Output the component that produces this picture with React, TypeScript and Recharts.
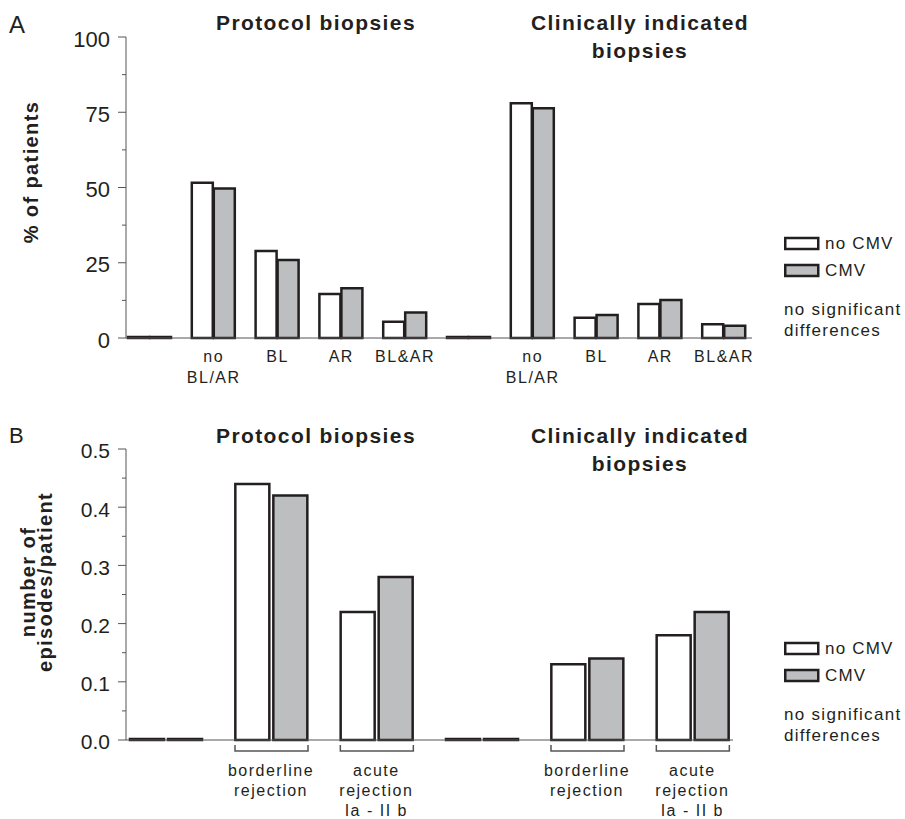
import { BarChart, Bar, XAxis, YAxis, Legend } from 'recharts'

// panel A: % of patients
const categoriesA = ['', 'no\nBL/AR', 'BL', 'AR', 'BL&AR', '', 'no\nBL/AR', 'BL', 'AR', 'BL&AR']
const noCmvA = [0, 51.6, 28.9, 14.6, 5.4, 0, 78.0, 6.7, 11.3, 4.6]
const cmvA = [0, 49.7, 25.9, 16.5, 8.5, 0, 76.3, 7.6, 12.6, 4.1]
const yTicksA = [0, 12.5, 25, 37.5, 50, 62.5, 75, 87.5, 100]

// panel B: number of episodes/patient
const categoriesB = ['', 'borderline\nrejection', 'acute\nrejection\nIa - II b', '', 'borderline\nrejection', 'acute\nrejection\nIa - II b']
const noCmvB = [0, 0.44, 0.22, 0, 0.13, 0.18]
const cmvB = [0, 0.42, 0.28, 0, 0.14, 0.22]
const yTicksB = [0, 0.05, 0.1, 0.15, 0.2, 0.25, 0.3, 0.35, 0.4, 0.45, 0.5]

const seriesOrder = ['no CMV', 'CMV']

const INK = '#231f20'
const GREY = '#bcbec0'
const AXIS = '#555'
const FONT = '"Liberation Sans", Arial, sans-serif'

const dataA = categoriesA.map((cat, i) => ({ cat, noCmv: noCmvA[i], cmv: cmvA[i] }))
const dataB = categoriesB.map((cat, i) => ({ cat, noCmv: noCmvB[i], cmv: cmvB[i] }))

function TickA(props: any) {
  const { x, y, payload } = props
  const lines = String(payload.value).split('\n').filter(Boolean)
  return (
    <g>
      {lines.map((l, i) => (
        <text key={i} x={x} y={y + 24 + i * 21} textAnchor="middle" fontSize={16} letterSpacing={1.5} fill={INK} fontFamily={FONT}>
          {l}
        </text>
      ))}
    </g>
  )
}

function TickB(props: any) {
  const { x, y, payload } = props
  const lines = String(payload.value).split('\n').filter(Boolean)
  if (!lines.length) return <g />
  return (
    <g>
      <path d={`M${x - 36},${y + 5}V${y + 11}H${x + 37}V${y + 5}`} stroke={AXIS} strokeWidth={1.5} fill="none" />
      {lines.map((l, i) => (
        <text key={i} x={x} y={y + 36 + i * 20} textAnchor="middle" fontSize={16} letterSpacing={1.5} fill={INK} fontFamily={FONT}>
          {l}
        </text>
      ))}
    </g>
  )
}

const makeYTick = (isMajor: (v: number) => boolean, fmt: (v: number) => string, fontSize: number) =>
  function YTick(props: any) {
    const { x, y, payload } = props
    const major = isMajor(payload.value)
    return (
      <g>
        <line x1={x - (major ? 8 : 4)} x2={x} y1={y} y2={y} stroke={AXIS} strokeWidth={1} />
        {major && (
          <text x={x - 16} y={y + 2} dy="0.35em" textAnchor="end" fontSize={fontSize} fill={INK} fontFamily={FONT}>
            {fmt(payload.value)}
          </text>
        )}
      </g>
    )
  }

const YTickA = makeYTick((v) => v % 25 === 0, (v) => String(v), 22)
const YTickB = makeYTick((v) => Math.round(v * 100) % 10 === 0, (v) => v.toFixed(1), 21)

function renderLegend(props: any) {
  const items = [...(props.payload || [])].sort((a: any, b: any) => seriesOrder.indexOf(a.value) - seriesOrder.indexOf(b.value))
  return (
    <svg width={121} height={110} style={{ display: 'block', fontFamily: FONT }}>
      {items.map((entry: any, i: number) => (
        <g key={i}>
          <rect x={1.25} y={4 + i * 27} width={33} height={11} fill={entry.color} stroke={INK} strokeWidth={2.5} />
          <text x={41} y={15 + i * 27} fontSize={17} letterSpacing={1.2} fill={INK}>
            {entry.value}
          </text>
        </g>
      ))}
      <text x={0} y={81} fontSize={17} letterSpacing={1.3} fill={INK}>no significant</text>
      <text x={0} y={102} fontSize={17} letterSpacing={1.3} fill={INK}>differences</text>
    </svg>
  )
}

const titleStyle = { fontSize: 21, fontWeight: 700, letterSpacing: 1.4, fill: INK }
const axisTitleStyle = { fontSize: 20, fontWeight: 700, letterSpacing: 1.4, fill: INK }

export default function App() {
  return (
    <div style={{ position: 'absolute', left: 0, top: 0, width: 905, height: 819, background: '#fff', fontFamily: FONT }}>
      <div style={{ position: 'absolute', left: 0, top: 0 }}>
        <BarChart width={905} height={400} data={dataA} margin={{ top: 37, right: 153, bottom: 12, left: 66 }} barGap={1}>
          <XAxis
            dataKey="cat"
            padding={{ left: -8, right: -4 }}
            axisLine={{ stroke: AXIS, strokeWidth: 1 }}
            tickLine={false}
            tickSize={0}
            tickMargin={0}
            height={50}
            interval={0}
            tick={<TickA />}
          />
          <YAxis
            domain={[0, 100]}
            ticks={yTicksA}
            interval={0}
            width={60}
            axisLine={{ stroke: AXIS, strokeWidth: 1 }}
            tickLine={false}
            tickSize={0}
            tickMargin={0}
            tick={<YTickA />}
          />
          <Legend layout="horizontal" verticalAlign="middle" align="center" wrapperStyle={{ left: 784, top: 234, width: 121, height: 110 }} content={renderLegend} />
          <Bar dataKey="noCmv" name="no CMV" fill="#ffffff" stroke={INK} strokeWidth={2.5} barSize={21} minPointSize={1} isAnimationActive={false} />
          <Bar dataKey="cmv" name="CMV" fill={GREY} stroke={INK} strokeWidth={2.5} barSize={21} minPointSize={1} isAnimationActive={false} />
        </BarChart>
      </div>
      <div style={{ position: 'absolute', left: 0, top: 400 }}>
        <BarChart width={905} height={419} data={dataB} margin={{ top: 49, right: 172, bottom: 9, left: 66 }} barGap={4}>
          <XAxis
            dataKey="cat"
            padding={{ left: -13, right: -12 }}
            axisLine={{ stroke: AXIS, strokeWidth: 1 }}
            tickLine={false}
            tickSize={0}
            tickMargin={0}
            height={70}
            interval={0}
            tick={<TickB />}
          />
          <YAxis
            domain={[0, 0.5]}
            ticks={yTicksB}
            interval={0}
            width={60}
            axisLine={{ stroke: AXIS, strokeWidth: 1 }}
            tickLine={false}
            tickSize={0}
            tickMargin={0}
            tick={<YTickB />}
          />
          <Legend layout="horizontal" verticalAlign="middle" align="center" wrapperStyle={{ left: 784, top: 239, width: 121, height: 110 }} content={renderLegend} />
          <Bar dataKey="noCmv" name="no CMV" fill="#ffffff" stroke={INK} strokeWidth={2.5} barSize={34} minPointSize={1} isAnimationActive={false} />
          <Bar dataKey="cmv" name="CMV" fill={GREY} stroke={INK} strokeWidth={2.5} barSize={34} minPointSize={1} isAnimationActive={false} />
        </BarChart>
      </div>
      <svg width={905} height={819} style={{ position: 'absolute', left: 0, top: 0, pointerEvents: 'none', fontFamily: FONT }}>
        <text x={9} y={33} fontSize={24} fill={INK}>A</text>
        <text x={9} y={443} fontSize={22} fill={INK}>B</text>

        <text x={316} y={30} textAnchor="middle" {...titleStyle}>Protocol biopsies</text>
        <text x={640} y={30} textAnchor="middle" {...titleStyle}>Clinically indicated</text>
        <text x={640} y={58} textAnchor="middle" {...titleStyle}>biopsies</text>

        <text x={316} y={443} textAnchor="middle" {...titleStyle}>Protocol biopsies</text>
        <text x={640} y={443} textAnchor="middle" {...titleStyle}>Clinically indicated</text>
        <text x={640} y={471} textAnchor="middle" {...titleStyle}>biopsies</text>

        <text x={38} y={172} transform="rotate(-90 38 172)" textAnchor="middle" {...axisTitleStyle}>% of patients</text>
        <text x={35} y={582} transform="rotate(-90 35 582)" textAnchor="middle" {...axisTitleStyle}>number of</text>
        <text x={52} y={582} transform="rotate(-90 52 582)" textAnchor="middle" {...axisTitleStyle}>episodes/patient</text>
      </svg>
    </div>
  )
}
